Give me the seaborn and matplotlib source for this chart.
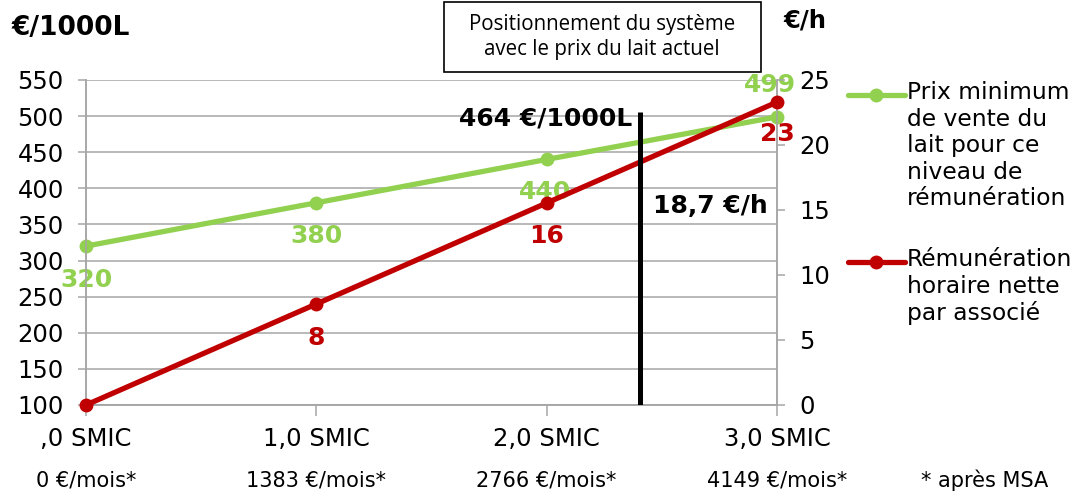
import numpy as np
import pandas as pd
import seaborn as sns
import matplotlib
matplotlib.use("Agg")
import matplotlib.pyplot as plt
from matplotlib.lines import Line2D
from matplotlib.patches import Rectangle

# ---- data ----
categories = [",0 SMIC", "1,0 SMIC", "2,0 SMIC", "3,0 SMIC"]
salaires = ["0 €/mois*", "1383 €/mois*", "2766 €/mois*", "4149 €/mois*"]
prix_min = [320, 380, 440, 499]          # €/1000L
remu_horaire = [0, 7.77, 15.54, 23.3]    # €/h
prix_actuel = 464                         # €/1000L
remu_actuelle = 18.7                      # €/h
serie_prix = "Prix minimum\nde vente du\nlait pour ce\nniveau de\nrémunération"
serie_remu = "Rémunération\nhoraire nette\npar associé"

GREEN = "#92D050"
RED = "#C00000"
GRID = "#a6a6a6"

sns.set_theme(style="white")
plt.rcParams["font.family"] = ["DejaVu Sans"]
plt.rcParams["text.color"] = "black"
plt.rcParams["xtick.labelcolor"] = "black"
plt.rcParams["ytick.labelcolor"] = "black"

x = np.arange(len(categories))
df = pd.DataFrame({"x": x, "prix": prix_min, "remu": remu_horaire})

W, H = 1076, 492
fig = plt.figure(figsize=(W / 100, H / 100), dpi=100)
ax1 = fig.add_axes([86 / W, 1 - 405 / H, (777 - 86) / W, (405 - 80) / H])
ax2 = ax1.twinx()

FS = 17.5
FB = 18
FL = 16.8
sns.lineplot(data=df, x="x", y="prix", ax=ax1, color=GREEN, lw=3.8,
             marker="o", markersize=10, markeredgewidth=0, zorder=3,
             clip_on=False)
sns.lineplot(data=df, x="x", y="remu", ax=ax2, color=RED, lw=3.8,
             marker="o", markersize=10, markeredgewidth=0, zorder=3,
             clip_on=False)

ax1.set_xlim(0, 3)
ax1.set_ylim(100, 550)
ax2.set_ylim(0, 25)
ax1.set_yticks(np.arange(100, 551, 50))
ax2.set_yticks(np.arange(0, 26, 5))
ax1.set_xticks(x)
ax1.set_xticklabels(categories)
ax1.set_xlabel("")
ax1.set_ylabel("")
ax2.set_ylabel("")

ax1.grid(axis="y", color=GRID, lw=1.1)
ax1.grid(axis="x", visible=False)
ax2.grid(False)
for a in (ax1, ax2):
    for s in a.spines.values():
        s.set_color(GRID)
        s.set_linewidth(1.1)
    a.spines["top"].set_visible(False)
ax1.tick_params(axis="y", direction="out", length=6, width=1.1, color=GRID,
                labelsize=FS, pad=10, left=True)
ax1.tick_params(axis="x", direction="out", length=8, width=1.1, color=GRID,
                labelsize=FS, pad=8, bottom=True)
ax2.tick_params(axis="y", direction="out", length=6, width=1.1, color=GRID,
                labelsize=FS, pad=10, right=True)

# data labels
g_off = [(0, -34), (0, -33), (-2, -33), (-7, 32)]
for xi, v, off in zip(x, prix_min, g_off):
    ax1.annotate(f"{v:.0f}", (xi, v), xytext=off, textcoords="offset pixels",
                 ha="center", va="center", color=GREEN, fontsize=FB,
                 fontweight="bold", zorder=5, annotation_clip=False)
r_off = [None, (0, -34), (0, -33), (0, -32)]
for xi, v, off in zip(x, remu_horaire, r_off):
    if off is None:
        continue
    ax2.annotate(f"{v:.0f}", (xi, v), xytext=off, textcoords="offset pixels",
                 ha="center", va="center", color=RED, fontsize=FB,
                 fontweight="bold", zorder=5, annotation_clip=False)

# current position line
xpos = np.interp(prix_actuel, prix_min, x)
ax2.plot([xpos, xpos], [0, (505 - 100) / 450 * 25], color="black", lw=3.6,
         zorder=4, solid_capstyle="butt")
ax1.annotate(f"{prix_actuel} €/1000L", (xpos, 496), xytext=(-8, 0),
             textcoords="offset pixels", ha="right", va="center",
             fontsize=FB, fontweight="bold", color="black")
ax2.annotate(f"{remu_actuelle:.1f} €/h".replace(".", ","), (xpos, 15.3),
             xytext=(13, 0), textcoords="offset pixels", ha="left",
             va="center", fontsize=FB, fontweight="bold", color="black")

# axis titles
fig.text(12 / W, 1 - 28 / H, "€/1000L", fontsize=19, fontweight="bold",
         ha="left", va="center")
fig.text(783 / W, 1 - 20 / H, "€/h", fontsize=FS, fontweight="bold",
         ha="left", va="center")

# box
fig.add_artist(Rectangle((444 / W, 1 - 72 / H), (761 - 444) / W, 70 / H,
                         transform=fig.transFigure, fill=False,
                         edgecolor="black", lw=1.2))
fig.text(602 / W, 1 - 37 / H,
         "Positionnement du système\navec le prix du lait actuel",
         fontsize=14.8, family=["Open Sans", "DejaVu Sans"], ha="center",
         va="center", linespacing=1.3)

# legend (manual)
for (ly, txt, col) in [(95, serie_prix, GREEN), (262, serie_remu, RED)]:
    fig.add_artist(Line2D([848 / W, 905 / W], [1 - ly / H, 1 - ly / H],
                          transform=fig.transFigure, color=col, lw=3.8))
    fig.add_artist(Line2D([876 / W], [1 - ly / H], transform=fig.transFigure,
                          color=col, marker="o", markersize=10,
                          markeredgewidth=0))
    fig.text(907 / W, 1 - (ly - 14) / H, txt, fontsize=FL, ha="left",
             va="top", linespacing=1.2)

# bottom salary row
for xi, s in zip(x, salaires):
    px = 86 + xi * (777 - 86) / 3
    fig.text(px / W, 1 - 480 / H, s, fontsize=15, ha="center", va="center")
fig.text(985 / W, 1 - 480 / H, "* après MSA", fontsize=15, ha="center",
         va="center")

fig.savefig("out.png", dpi=100)
